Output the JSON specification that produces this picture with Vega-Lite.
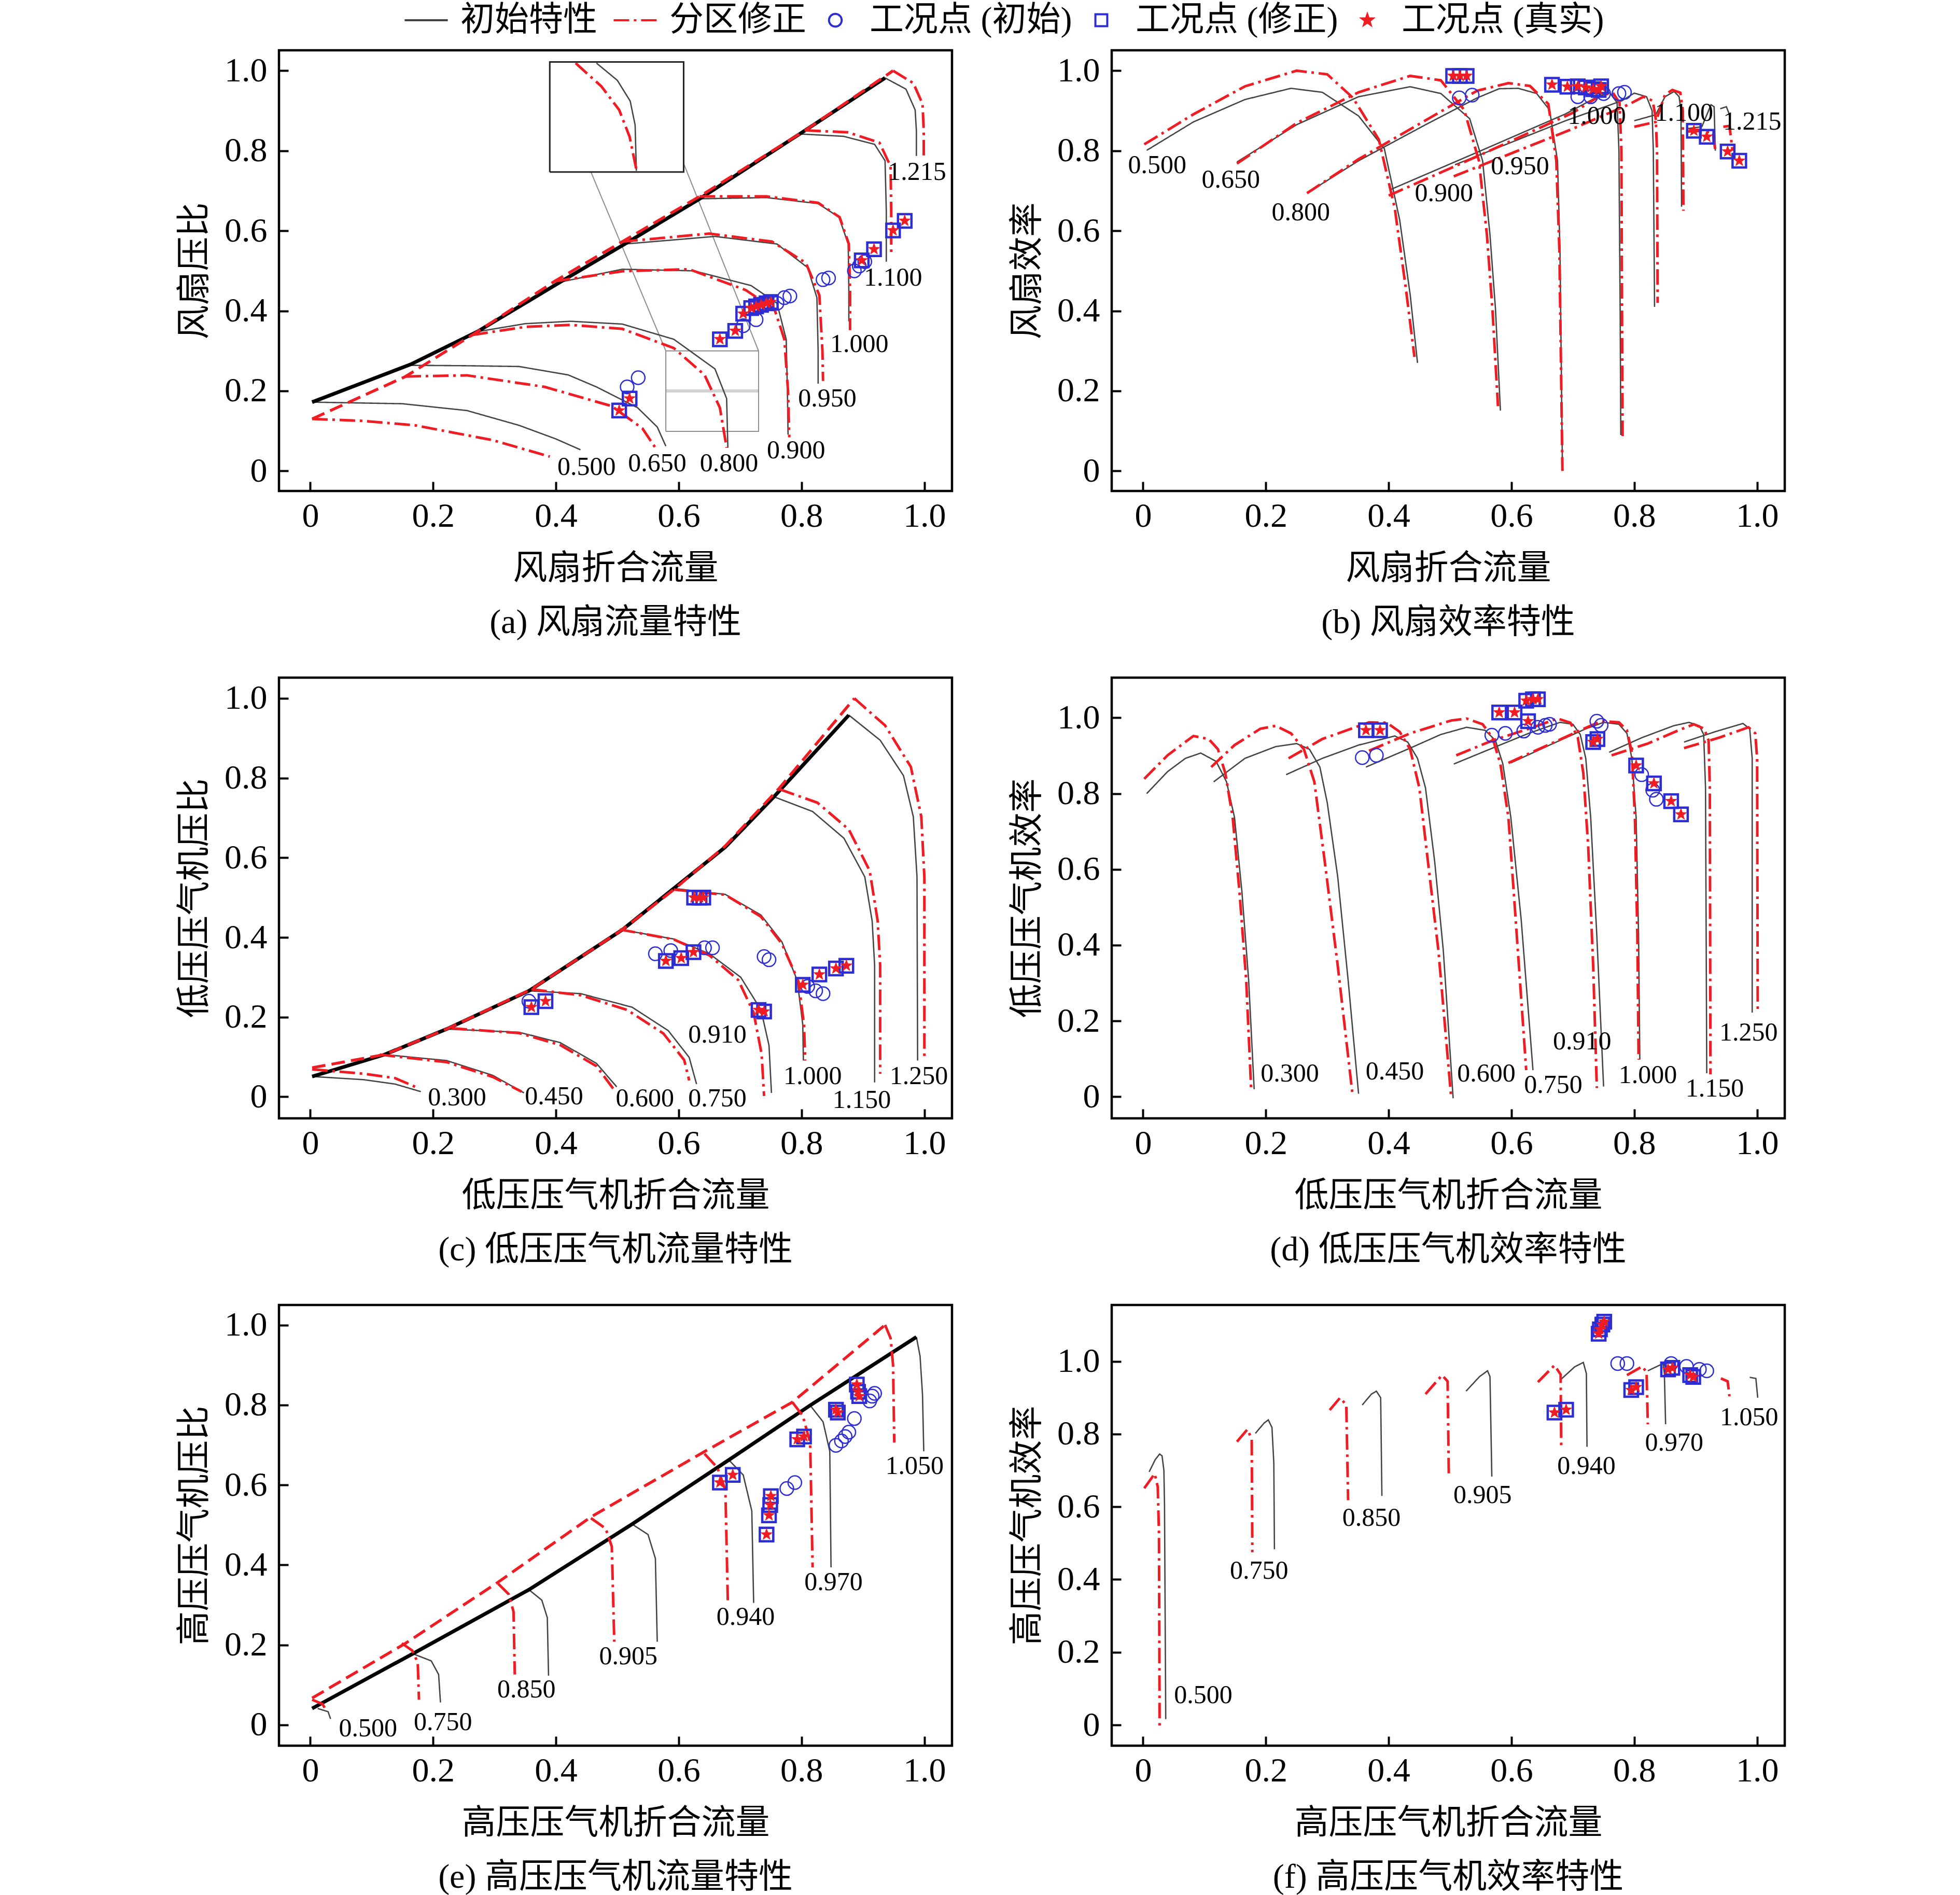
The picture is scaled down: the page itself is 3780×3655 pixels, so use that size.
{
  "$schema": "https://vega.github.io/schema/vega-lite/v6.json",
  "background": "white",
  "padding": {"left": 340, "top": 6, "right": 10, "bottom": 10},
  "datasets": {
    "a": [
      {"g":"si","x":0.003,"y":0.172},{"g":"si","x":0.163,"y":0.266},{"g":"si","x":0.272,"y":0.348},{"g":"si","x":0.407,"y":0.472},{"g":"si","x":0.512,"y":0.567},{"g":"si","x":0.634,"y":0.68},{"g":"si","x":0.797,"y":0.842},{"g":"si","x":0.936,"y":0.982},
      {"g":"sc","x":0.003,"y":0.13},{"g":"sc","x":0.155,"y":0.236},{"g":"sc","x":0.264,"y":0.34},{"g":"sc","x":0.398,"y":0.474},{"g":"sc","x":0.508,"y":0.573},{"g":"sc","x":0.634,"y":0.686},{"g":"sc","x":0.806,"y":0.851},{"g":"sc","x":0.949,"y":1.0},
      {"g":"i","s":"0.500","x":0.003,"y":0.172},{"g":"i","s":"0.500","x":0.15,"y":0.168},{"g":"i","s":"0.500","x":0.255,"y":0.151},{"g":"i","s":"0.500","x":0.34,"y":0.114},{"g":"i","s":"0.500","x":0.4,"y":0.08},{"g":"i","s":"0.500","x":0.44,"y":0.053},
      {"g":"c","s":"0.500","x":0.003,"y":0.13},{"g":"c","s":"0.500","x":0.087,"y":0.125},{"g":"c","s":"0.500","x":0.171,"y":0.114},{"g":"c","s":"0.500","x":0.297,"y":0.077},{"g":"c","s":"0.500","x":0.39,"y":0.036},
      {"g":"i","s":"0.650","x":0.163,"y":0.264},{"g":"i","s":"0.650","x":0.25,"y":0.263},{"g":"i","s":"0.650","x":0.34,"y":0.261},{"g":"i","s":"0.650","x":0.42,"y":0.24},{"g":"i","s":"0.650","x":0.466,"y":0.21},{"g":"i","s":"0.650","x":0.533,"y":0.158},{"g":"i","s":"0.650","x":0.565,"y":0.11},{"g":"i","s":"0.650","x":0.579,"y":0.062},
      {"g":"c","s":"0.650","x":0.155,"y":0.236},{"g":"c","s":"0.650","x":0.255,"y":0.239},{"g":"c","s":"0.650","x":0.382,"y":0.21},{"g":"c","s":"0.650","x":0.491,"y":0.162},{"g":"c","s":"0.650","x":0.541,"y":0.106},{"g":"c","s":"0.650","x":0.562,"y":0.058},
      {"g":"i","s":"0.800","x":0.272,"y":0.348},{"g":"i","s":"0.800","x":0.35,"y":0.368},{"g":"i","s":"0.800","x":0.424,"y":0.374},{"g":"i","s":"0.800","x":0.508,"y":0.367},{"g":"i","s":"0.800","x":0.592,"y":0.329},{"g":"i","s":"0.800","x":0.659,"y":0.255},{"g":"i","s":"0.800","x":0.678,"y":0.181},{"g":"i","s":"0.800","x":0.68,"y":0.058},
      {"g":"c","s":"0.800","x":0.264,"y":0.34},{"g":"c","s":"0.800","x":0.35,"y":0.36},{"g":"c","s":"0.800","x":0.424,"y":0.365},{"g":"c","s":"0.800","x":0.508,"y":0.355},{"g":"c","s":"0.800","x":0.592,"y":0.307},{"g":"c","s":"0.800","x":0.642,"y":0.24},{"g":"c","s":"0.800","x":0.667,"y":0.158},{"g":"c","s":"0.800","x":0.678,"y":0.058},
      {"g":"i","s":"0.900","x":0.407,"y":0.472},{"g":"i","s":"0.900","x":0.508,"y":0.504},{"g":"i","s":"0.900","x":0.625,"y":0.5},{"g":"i","s":"0.900","x":0.718,"y":0.463},{"g":"i","s":"0.900","x":0.76,"y":0.419},{"g":"i","s":"0.900","x":0.775,"y":0.329},{"g":"i","s":"0.900","x":0.777,"y":0.2},{"g":"i","s":"0.900","x":0.778,"y":0.091},
      {"g":"c","s":"0.900","x":0.398,"y":0.474},{"g":"c","s":"0.900","x":0.508,"y":0.499},{"g":"c","s":"0.900","x":0.617,"y":0.504},{"g":"c","s":"0.900","x":0.709,"y":0.452},{"g":"c","s":"0.900","x":0.756,"y":0.404},{"g":"c","s":"0.900","x":0.772,"y":0.329},{"g":"c","s":"0.900","x":0.778,"y":0.2},{"g":"c","s":"0.900","x":0.78,"y":0.084},
      {"g":"i","s":"0.950","x":0.512,"y":0.567},{"g":"i","s":"0.950","x":0.659,"y":0.586},{"g":"i","s":"0.950","x":0.76,"y":0.567},{"g":"i","s":"0.950","x":0.81,"y":0.508},{"g":"i","s":"0.950","x":0.825,"y":0.433},{"g":"i","s":"0.950","x":0.827,"y":0.3},{"g":"i","s":"0.950","x":0.827,"y":0.218},
      {"g":"c","s":"0.950","x":0.508,"y":0.573},{"g":"c","s":"0.950","x":0.65,"y":0.593},{"g":"c","s":"0.950","x":0.752,"y":0.573},{"g":"c","s":"0.950","x":0.807,"y":0.52},{"g":"c","s":"0.950","x":0.829,"y":0.439},{"g":"c","s":"0.950","x":0.834,"y":0.3},{"g":"c","s":"0.950","x":0.835,"y":0.225},
      {"g":"i","s":"1.000","x":0.634,"y":0.68},{"g":"i","s":"1.000","x":0.743,"y":0.683},{"g":"i","s":"1.000","x":0.827,"y":0.668},{"g":"i","s":"1.000","x":0.861,"y":0.634},{"g":"i","s":"1.000","x":0.876,"y":0.567},{"g":"i","s":"1.000","x":0.877,"y":0.45},{"g":"i","s":"1.000","x":0.877,"y":0.374},
      {"g":"c","s":"1.000","x":0.634,"y":0.686},{"g":"c","s":"1.000","x":0.743,"y":0.686},{"g":"c","s":"1.000","x":0.827,"y":0.67},{"g":"c","s":"1.000","x":0.862,"y":0.634},{"g":"c","s":"1.000","x":0.877,"y":0.567},{"g":"c","s":"1.000","x":0.879,"y":0.45},{"g":"c","s":"1.000","x":0.879,"y":0.352},
      {"g":"i","s":"1.100","x":0.797,"y":0.842},{"g":"i","s":"1.100","x":0.869,"y":0.836},{"g":"i","s":"1.100","x":0.919,"y":0.816},{"g":"i","s":"1.100","x":0.936,"y":0.775},{"g":"i","s":"1.100","x":0.938,"y":0.65},{"g":"i","s":"1.100","x":0.938,"y":0.523},
      {"g":"c","s":"1.100","x":0.806,"y":0.851},{"g":"c","s":"1.100","x":0.876,"y":0.846},{"g":"c","s":"1.100","x":0.927,"y":0.82},{"g":"c","s":"1.100","x":0.945,"y":0.761},{"g":"c","s":"1.100","x":0.946,"y":0.65},{"g":"c","s":"1.100","x":0.946,"y":0.545},
      {"g":"i","s":"1.215","x":0.936,"y":0.982},{"g":"i","s":"1.215","x":0.97,"y":0.954},{"g":"i","s":"1.215","x":0.985,"y":0.902},{"g":"i","s":"1.215","x":0.987,"y":0.85},{"g":"i","s":"1.215","x":0.987,"y":0.787},
      {"g":"c","s":"1.215","x":0.949,"y":1.0},{"g":"c","s":"1.215","x":0.982,"y":0.969},{"g":"c","s":"1.215","x":0.997,"y":0.917},{"g":"c","s":"1.215","x":0.999,"y":0.85},{"g":"c","s":"1.215","x":0.999,"y":0.787},
      {"g":"i","s":"inset","x":0.466,"y":1.019},{"g":"i","s":"inset","x":0.5,"y":0.976},{"g":"i","s":"inset","x":0.521,"y":0.924},{"g":"i","s":"inset","x":0.529,"y":0.864},{"g":"i","s":"inset","x":0.531,"y":0.75},
      {"g":"c","s":"inset","x":0.432,"y":1.019},{"g":"c","s":"inset","x":0.474,"y":0.961},{"g":"c","s":"inset","x":0.503,"y":0.902},{"g":"c","s":"inset","x":0.52,"y":0.835},{"g":"c","s":"inset","x":0.531,"y":0.753},
      {"g":"bx","x":0.39,"y":0.747},{"g":"bx","x":0.608,"y":0.747},{"g":"bx","x":0.608,"y":1.022},{"g":"bx","x":0.39,"y":1.022},{"g":"bx","x":0.39,"y":0.747},
      {"g":"zr","x":0.579,"y":0.099},{"g":"zr","x":0.73,"y":0.099},{"g":"zr","x":0.73,"y":0.3},{"g":"zr","x":0.579,"y":0.3},{"g":"zr","x":0.579,"y":0.099},
      {"g":"cn1","x":0.457,"y":0.747},{"g":"cn1","x":0.579,"y":0.3},
      {"g":"cn2","x":0.608,"y":0.768},{"g":"cn2","x":0.73,"y":0.3},
      {"g":"bd","x":0.579,"y":0.2},{"g":"bd","x":0.73,"y":0.2},
      {"g":"o","x":0.516,"y":0.21},{"g":"o","x":0.534,"y":0.233},{"g":"o","x":0.705,"y":0.363},{"g":"o","x":0.726,"y":0.378},{"g":"o","x":0.76,"y":0.419},{"g":"o","x":0.772,"y":0.433},{"g":"o","x":0.781,"y":0.437},{"g":"o","x":0.835,"y":0.478},{"g":"o","x":0.844,"y":0.482},{"g":"o","x":0.886,"y":0.5},{"g":"o","x":0.894,"y":0.512},{"g":"o","x":0.903,"y":0.523},
      {"g":"q","x":0.503,"y":0.151},{"g":"q","x":0.52,"y":0.181},{"g":"q","x":0.667,"y":0.329},{"g":"q","x":0.692,"y":0.35},{"g":"q","x":0.705,"y":0.393},{"g":"q","x":0.718,"y":0.407},{"g":"q","x":0.726,"y":0.411},{"g":"q","x":0.734,"y":0.415},{"g":"q","x":0.743,"y":0.419},{"g":"q","x":0.75,"y":0.422},{"g":"q","x":0.898,"y":0.526},{"g":"q","x":0.918,"y":0.554},{"g":"q","x":0.949,"y":0.601},{"g":"q","x":0.968,"y":0.625},
      {"g":"t","s":"0.500","x":0.45,"y":0.01},{"g":"t","s":"0.650","x":0.565,"y":0.019},{"g":"t","s":"0.800","x":0.682,"y":0.019},{"g":"t","s":"0.900","x":0.791,"y":0.051},{"g":"t","s":"0.950","x":0.842,"y":0.181},{"g":"t","s":"1.000","x":0.894,"y":0.316},{"g":"t","s":"1.100","x":0.949,"y":0.482},{"g":"t","s":"1.215","x":0.988,"y":0.747}
    ],
    "b": [
      {"g":"i","s":"0.500","x":0.006,"y":0.801},{"g":"i","s":"0.500","x":0.082,"y":0.872},{"g":"i","s":"0.500","x":0.166,"y":0.928},{"g":"i","s":"0.500","x":0.241,"y":0.956},{"g":"i","s":"0.500","x":0.292,"y":0.946},{"g":"i","s":"0.500","x":0.351,"y":0.887},{"g":"i","s":"0.500","x":0.393,"y":0.805},{"g":"i","s":"0.500","x":0.418,"y":0.627},{"g":"i","s":"0.500","x":0.435,"y":0.441},{"g":"i","s":"0.500","x":0.447,"y":0.27},
      {"g":"c","s":"0.500","x":0.002,"y":0.816},{"g":"c","s":"0.500","x":0.082,"y":0.891},{"g":"c","s":"0.500","x":0.166,"y":0.961},{"g":"c","s":"0.500","x":0.25,"y":1.0},{"g":"c","s":"0.500","x":0.3,"y":0.991},{"g":"c","s":"0.500","x":0.342,"y":0.932},{"g":"c","s":"0.500","x":0.384,"y":0.828},{"g":"c","s":"0.500","x":0.41,"y":0.656},{"g":"c","s":"0.500","x":0.428,"y":0.456},{"g":"c","s":"0.500","x":0.442,"y":0.285},
      {"g":"i","s":"0.650","x":0.153,"y":0.772},{"g":"i","s":"0.650","x":0.25,"y":0.865},{"g":"i","s":"0.650","x":0.351,"y":0.935},{"g":"i","s":"0.650","x":0.435,"y":0.96},{"g":"i","s":"0.650","x":0.485,"y":0.943},{"g":"i","s":"0.650","x":0.532,"y":0.88},{"g":"i","s":"0.650","x":0.553,"y":0.775},{"g":"i","s":"0.650","x":0.565,"y":0.59},{"g":"i","s":"0.650","x":0.574,"y":0.404},{"g":"i","s":"0.650","x":0.582,"y":0.151},
      {"g":"c","s":"0.650","x":0.153,"y":0.768},{"g":"c","s":"0.650","x":0.25,"y":0.869},{"g":"c","s":"0.650","x":0.351,"y":0.946},{"g":"c","s":"0.650","x":0.435,"y":0.987},{"g":"c","s":"0.650","x":0.485,"y":0.976},{"g":"c","s":"0.650","x":0.523,"y":0.902},{"g":"c","s":"0.650","x":0.547,"y":0.775},{"g":"c","s":"0.650","x":0.56,"y":0.59},{"g":"c","s":"0.650","x":0.569,"y":0.404},{"g":"c","s":"0.650","x":0.578,"y":0.162},
      {"g":"i","s":"0.800","x":0.267,"y":0.694},{"g":"i","s":"0.800","x":0.351,"y":0.775},{"g":"i","s":"0.800","x":0.46,"y":0.865},{"g":"i","s":"0.800","x":0.544,"y":0.932},{"g":"i","s":"0.800","x":0.58,"y":0.955},{"g":"i","s":"0.800","x":0.611,"y":0.956},{"g":"i","s":"0.800","x":0.641,"y":0.943},{"g":"i","s":"0.800","x":0.662,"y":0.902},{"g":"i","s":"0.800","x":0.675,"y":0.775},{"g":"i","s":"0.800","x":0.679,"y":0.552},{"g":"i","s":"0.800","x":0.683,"y":0.002},
      {"g":"c","s":"0.800","x":0.267,"y":0.694},{"g":"c","s":"0.800","x":0.351,"y":0.779},{"g":"c","s":"0.800","x":0.46,"y":0.876},{"g":"c","s":"0.800","x":0.544,"y":0.95},{"g":"c","s":"0.800","x":0.595,"y":0.969},{"g":"c","s":"0.800","x":0.63,"y":0.962},{"g":"c","s":"0.800","x":0.66,"y":0.917},{"g":"c","s":"0.800","x":0.673,"y":0.775},{"g":"c","s":"0.800","x":0.678,"y":0.552},{"g":"c","s":"0.800","x":0.683,"y":0.0},
      {"g":"i","s":"0.900","x":0.403,"y":0.703},{"g":"i","s":"0.900","x":0.55,"y":0.8},{"g":"i","s":"0.900","x":0.688,"y":0.892},{"g":"i","s":"0.900","x":0.74,"y":0.935},{"g":"i","s":"0.900","x":0.76,"y":0.945},{"g":"i","s":"0.900","x":0.772,"y":0.92},{"g":"i","s":"0.900","x":0.775,"y":0.8},{"g":"i","s":"0.900","x":0.777,"y":0.4},{"g":"i","s":"0.900","x":0.778,"y":0.09},
      {"g":"c","s":"0.900","x":0.4,"y":0.688},{"g":"c","s":"0.900","x":0.55,"y":0.79},{"g":"c","s":"0.900","x":0.7,"y":0.895},{"g":"c","s":"0.900","x":0.745,"y":0.938},{"g":"c","s":"0.900","x":0.765,"y":0.945},{"g":"c","s":"0.900","x":0.776,"y":0.92},{"g":"c","s":"0.900","x":0.779,"y":0.8},{"g":"c","s":"0.900","x":0.78,"y":0.4},{"g":"c","s":"0.900","x":0.781,"y":0.084},
      {"g":"i","s":"0.950","x":0.508,"y":0.765},{"g":"i","s":"0.950","x":0.688,"y":0.875},{"g":"i","s":"0.950","x":0.78,"y":0.925},{"g":"i","s":"0.950","x":0.8,"y":0.944},{"g":"i","s":"0.950","x":0.82,"y":0.935},{"g":"i","s":"0.950","x":0.829,"y":0.9},{"g":"i","s":"0.950","x":0.831,"y":0.8},{"g":"i","s":"0.950","x":0.833,"y":0.41},
      {"g":"c","s":"0.950","x":0.506,"y":0.736},{"g":"c","s":"0.950","x":0.7,"y":0.855},{"g":"c","s":"0.950","x":0.79,"y":0.915},{"g":"c","s":"0.950","x":0.815,"y":0.935},{"g":"c","s":"0.950","x":0.83,"y":0.925},{"g":"c","s":"0.950","x":0.835,"y":0.88},{"g":"c","s":"0.950","x":0.837,"y":0.8},{"g":"c","s":"0.950","x":0.838,"y":0.42},
      {"g":"i","s":"1.000","x":0.8,"y":0.875},{"g":"i","s":"1.000","x":0.835,"y":0.89},{"g":"i","s":"1.000","x":0.85,"y":0.935},{"g":"i","s":"1.000","x":0.865,"y":0.948},{"g":"i","s":"1.000","x":0.873,"y":0.935},{"g":"i","s":"1.000","x":0.876,"y":0.9},{"g":"i","s":"1.000","x":0.877,"y":0.66},
      {"g":"c","s":"1.000","x":0.8,"y":0.86},{"g":"c","s":"1.000","x":0.835,"y":0.872},{"g":"c","s":"1.000","x":0.85,"y":0.94},{"g":"c","s":"1.000","x":0.862,"y":0.952},{"g":"c","s":"1.000","x":0.875,"y":0.945},{"g":"c","s":"1.000","x":0.879,"y":0.9},{"g":"c","s":"1.000","x":0.88,"y":0.65},
      {"g":"i","s":"1.100","x":0.885,"y":0.855},{"g":"i","s":"1.100","x":0.91,"y":0.86},{"g":"i","s":"1.100","x":0.925,"y":0.915},{"g":"i","s":"1.100","x":0.93,"y":0.91},{"g":"i","s":"1.100","x":0.932,"y":0.8},
      {"g":"c","s":"1.100","x":0.885,"y":0.848},{"g":"c","s":"1.100","x":0.91,"y":0.85},{"g":"c","s":"1.100","x":0.928,"y":0.845},{"g":"c","s":"1.100","x":0.932,"y":0.8},
      {"g":"i","s":"1.215","x":0.94,"y":0.905},{"g":"i","s":"1.215","x":0.95,"y":0.91},{"g":"i","s":"1.215","x":0.955,"y":0.89},{"g":"i","s":"1.215","x":0.957,"y":0.84},
      {"g":"c","s":"1.215","x":0.945,"y":0.86},{"g":"c","s":"1.215","x":0.955,"y":0.862},{"g":"c","s":"1.215","x":0.96,"y":0.8},
      {"g":"o","x":0.515,"y":0.932},{"g":"o","x":0.536,"y":0.939},{"g":"o","x":0.708,"y":0.935},{"g":"o","x":0.729,"y":0.935},{"g":"o","x":0.75,"y":0.943},{"g":"o","x":0.775,"y":0.943},{"g":"o","x":0.784,"y":0.946},
      {"g":"q","x":0.505,"y":0.987},{"g":"q","x":0.516,"y":0.987},{"g":"q","x":0.527,"y":0.987},{"g":"q","x":0.666,"y":0.965},{"g":"q","x":0.691,"y":0.96},{"g":"q","x":0.708,"y":0.961},{"g":"q","x":0.721,"y":0.958},{"g":"q","x":0.733,"y":0.954},{"g":"q","x":0.742,"y":0.952},{"g":"q","x":0.746,"y":0.961},{"g":"q","x":0.897,"y":0.85},{"g":"q","x":0.918,"y":0.835},{"g":"q","x":0.952,"y":0.798},{"g":"q","x":0.971,"y":0.775},
      {"g":"t","s":"0.500","x":0.023,"y":0.764},{"g":"t","s":"0.650","x":0.143,"y":0.727},{"g":"t","s":"0.800","x":0.257,"y":0.645},{"g":"t","s":"0.900","x":0.49,"y":0.694},{"g":"t","s":"0.950","x":0.614,"y":0.761},{"g":"t","s":"1.000","x":0.739,"y":0.887},{"g":"t","s":"1.100","x":0.881,"y":0.894},{"g":"t","s":"1.215","x":0.992,"y":0.872}
    ],
    "c": [
      {"g":"si","x":0.003,"y":0.051},{"g":"si","x":0.121,"y":0.106},{"g":"si","x":0.222,"y":0.17},{"g":"si","x":0.356,"y":0.266},{"g":"si","x":0.508,"y":0.419},{"g":"si","x":0.592,"y":0.523},{"g":"si","x":0.676,"y":0.627},{"g":"si","x":0.755,"y":0.753},{"g":"si","x":0.877,"y":0.958},
      {"g":"sc","x":0.003,"y":0.073},{"g":"sc","x":0.121,"y":0.106},{"g":"sc","x":0.222,"y":0.17},{"g":"sc","x":0.36,"y":0.27},{"g":"sc","x":0.505,"y":0.416},{"g":"sc","x":0.592,"y":0.52},{"g":"sc","x":0.676,"y":0.63},{"g":"sc","x":0.764,"y":0.775},{"g":"sc","x":0.886,"y":1.0},
      {"g":"i","s":"0.300","x":0.003,"y":0.051},{"g":"i","s":"0.300","x":0.087,"y":0.043},{"g":"i","s":"0.300","x":0.138,"y":0.032},{"g":"i","s":"0.300","x":0.18,"y":0.013},
      {"g":"c","s":"0.300","x":0.003,"y":0.069},{"g":"c","s":"0.300","x":0.087,"y":0.058},{"g":"c","s":"0.300","x":0.138,"y":0.047},{"g":"c","s":"0.300","x":0.171,"y":0.025},
      {"g":"i","s":"0.450","x":0.121,"y":0.106},{"g":"i","s":"0.450","x":0.222,"y":0.091},{"g":"i","s":"0.450","x":0.297,"y":0.054},{"g":"i","s":"0.450","x":0.348,"y":0.01},
      {"g":"c","s":"0.450","x":0.113,"y":0.106},{"g":"c","s":"0.450","x":0.222,"y":0.087},{"g":"c","s":"0.450","x":0.297,"y":0.05},{"g":"c","s":"0.450","x":0.344,"y":0.013},
      {"g":"i","s":"0.600","x":0.222,"y":0.17},{"g":"i","s":"0.600","x":0.34,"y":0.162},{"g":"i","s":"0.600","x":0.407,"y":0.136},{"g":"i","s":"0.600","x":0.466,"y":0.084},{"g":"i","s":"0.600","x":0.499,"y":0.025},
      {"g":"c","s":"0.600","x":0.23,"y":0.172},{"g":"c","s":"0.600","x":0.34,"y":0.16},{"g":"c","s":"0.600","x":0.407,"y":0.13},{"g":"c","s":"0.600","x":0.466,"y":0.077},{"g":"c","s":"0.600","x":0.495,"y":0.017},
      {"g":"i","s":"0.750","x":0.356,"y":0.266},{"g":"i","s":"0.750","x":0.44,"y":0.259},{"g":"i","s":"0.750","x":0.524,"y":0.225},{"g":"i","s":"0.750","x":0.583,"y":0.166},{"g":"i","s":"0.750","x":0.617,"y":0.099},{"g":"i","s":"0.750","x":0.629,"y":0.032},
      {"g":"c","s":"0.750","x":0.36,"y":0.27},{"g":"c","s":"0.750","x":0.44,"y":0.255},{"g":"c","s":"0.750","x":0.516,"y":0.218},{"g":"c","s":"0.750","x":0.575,"y":0.159},{"g":"c","s":"0.750","x":0.609,"y":0.092},{"g":"c","s":"0.750","x":0.617,"y":0.041},
      {"g":"i","s":"0.910","x":0.508,"y":0.419},{"g":"i","s":"0.910","x":0.592,"y":0.396},{"g":"i","s":"0.910","x":0.65,"y":0.359},{"g":"i","s":"0.910","x":0.701,"y":0.3},{"g":"i","s":"0.910","x":0.734,"y":0.218},{"g":"i","s":"0.910","x":0.747,"y":0.129},{"g":"i","s":"0.910","x":0.751,"y":0.01},
      {"g":"c","s":"0.910","x":0.504,"y":0.42},{"g":"c","s":"0.910","x":0.592,"y":0.395},{"g":"c","s":"0.910","x":0.65,"y":0.355},{"g":"c","s":"0.910","x":0.697,"y":0.293},{"g":"c","s":"0.910","x":0.722,"y":0.211},{"g":"c","s":"0.910","x":0.735,"y":0.107},{"g":"c","s":"0.910","x":0.739,"y":0.002},
      {"g":"i","s":"1.000","x":0.592,"y":0.523},{"g":"i","s":"1.000","x":0.676,"y":0.508},{"g":"i","s":"1.000","x":0.734,"y":0.456},{"g":"i","s":"1.000","x":0.768,"y":0.389},{"g":"i","s":"1.000","x":0.793,"y":0.292},{"g":"i","s":"1.000","x":0.802,"y":0.181},{"g":"i","s":"1.000","x":0.803,"y":0.091},
      {"g":"c","s":"1.000","x":0.592,"y":0.52},{"g":"c","s":"1.000","x":0.676,"y":0.507},{"g":"c","s":"1.000","x":0.734,"y":0.452},{"g":"c","s":"1.000","x":0.768,"y":0.384},{"g":"c","s":"1.000","x":0.795,"y":0.29},{"g":"c","s":"1.000","x":0.804,"y":0.18},{"g":"c","s":"1.000","x":0.806,"y":0.091},
      {"g":"i","s":"1.150","x":0.755,"y":0.753},{"g":"i","s":"1.150","x":0.818,"y":0.716},{"g":"i","s":"1.150","x":0.869,"y":0.649},{"g":"i","s":"1.150","x":0.903,"y":0.552},{"g":"i","s":"1.150","x":0.915,"y":0.441},{"g":"i","s":"1.150","x":0.919,"y":0.33},{"g":"i","s":"1.150","x":0.919,"y":0.036},
      {"g":"c","s":"1.150","x":0.764,"y":0.772},{"g":"c","s":"1.150","x":0.826,"y":0.738},{"g":"c","s":"1.150","x":0.877,"y":0.671},{"g":"c","s":"1.150","x":0.911,"y":0.567},{"g":"c","s":"1.150","x":0.924,"y":0.441},{"g":"c","s":"1.150","x":0.928,"y":0.33},{"g":"c","s":"1.150","x":0.928,"y":0.058},
      {"g":"i","s":"1.250","x":0.877,"y":0.958},{"g":"i","s":"1.250","x":0.928,"y":0.895},{"g":"i","s":"1.250","x":0.966,"y":0.806},{"g":"i","s":"1.250","x":0.982,"y":0.703},{"g":"i","s":"1.250","x":0.988,"y":0.552},{"g":"i","s":"1.250","x":0.989,"y":0.091},
      {"g":"c","s":"1.250","x":0.886,"y":1.0},{"g":"c","s":"1.250","x":0.936,"y":0.932},{"g":"c","s":"1.250","x":0.978,"y":0.828},{"g":"c","s":"1.250","x":0.995,"y":0.703},{"g":"c","s":"1.250","x":1.0,"y":0.552},{"g":"c","s":"1.250","x":1.0,"y":0.091},
      {"g":"o","x":0.356,"y":0.24},{"g":"o","x":0.562,"y":0.359},{"g":"o","x":0.587,"y":0.367},{"g":"o","x":0.642,"y":0.374},{"g":"o","x":0.655,"y":0.374},{"g":"o","x":0.739,"y":0.352},{"g":"o","x":0.747,"y":0.344},{"g":"o","x":0.81,"y":0.277},{"g":"o","x":0.823,"y":0.266},{"g":"o","x":0.835,"y":0.259},
      {"g":"q","x":0.36,"y":0.225},{"g":"q","x":0.383,"y":0.24},{"g":"q","x":0.579,"y":0.341},{"g":"q","x":0.604,"y":0.348},{"g":"q","x":0.624,"y":0.363},{"g":"q","x":0.625,"y":0.5},{"g":"q","x":0.634,"y":0.5},{"g":"q","x":0.64,"y":0.5},{"g":"q","x":0.73,"y":0.218},{"g":"q","x":0.739,"y":0.214},{"g":"q","x":0.802,"y":0.281},{"g":"q","x":0.829,"y":0.307},{"g":"q","x":0.856,"y":0.322},{"g":"q","x":0.873,"y":0.329},
      {"g":"t","s":"0.300","x":0.239,"y":-0.002},{"g":"t","s":"0.450","x":0.397,"y":0.0},{"g":"t","s":"0.600","x":0.545,"y":-0.004},{"g":"t","s":"0.750","x":0.663,"y":-0.004},{"g":"t","s":"0.910","x":0.663,"y":0.156},{"g":"t","s":"1.000","x":0.818,"y":0.052},{"g":"t","s":"1.150","x":0.898,"y":-0.009},{"g":"t","s":"1.250","x":0.991,"y":0.052}
    ],
    "d": [
      {"g":"i","s":"0.300","x":0.006,"y":0.8},{"g":"i","s":"0.300","x":0.04,"y":0.858},{"g":"i","s":"0.300","x":0.069,"y":0.893},{"g":"i","s":"0.300","x":0.094,"y":0.907},{"g":"i","s":"0.300","x":0.119,"y":0.885},{"g":"i","s":"0.300","x":0.136,"y":0.831},{"g":"i","s":"0.300","x":0.149,"y":0.737},{"g":"i","s":"0.300","x":0.161,"y":0.542},{"g":"i","s":"0.300","x":0.172,"y":0.308},{"g":"i","s":"0.300","x":0.181,"y":0.02},
      {"g":"c","s":"0.300","x":0.002,"y":0.839},{"g":"c","s":"0.300","x":0.04,"y":0.901},{"g":"c","s":"0.300","x":0.082,"y":0.952},{"g":"c","s":"0.300","x":0.107,"y":0.944},{"g":"c","s":"0.300","x":0.122,"y":0.917},{"g":"c","s":"0.300","x":0.134,"y":0.854},{"g":"c","s":"0.300","x":0.146,"y":0.737},{"g":"c","s":"0.300","x":0.157,"y":0.542},{"g":"c","s":"0.300","x":0.168,"y":0.308},{"g":"c","s":"0.300","x":0.176,"y":0.023},
      {"g":"i","s":"0.450","x":0.115,"y":0.831},{"g":"i","s":"0.450","x":0.166,"y":0.893},{"g":"i","s":"0.450","x":0.216,"y":0.924},{"g":"i","s":"0.450","x":0.25,"y":0.932},{"g":"i","s":"0.450","x":0.271,"y":0.917},{"g":"i","s":"0.450","x":0.288,"y":0.87},{"g":"i","s":"0.450","x":0.3,"y":0.776},{"g":"i","s":"0.450","x":0.317,"y":0.581},{"g":"i","s":"0.450","x":0.334,"y":0.308},{"g":"i","s":"0.450","x":0.351,"y":0.008},
      {"g":"c","s":"0.450","x":0.111,"y":0.87},{"g":"c","s":"0.450","x":0.149,"y":0.928},{"g":"c","s":"0.450","x":0.191,"y":0.971},{"g":"c","s":"0.450","x":0.216,"y":0.979},{"g":"c","s":"0.450","x":0.241,"y":0.959},{"g":"c","s":"0.450","x":0.262,"y":0.917},{"g":"c","s":"0.450","x":0.279,"y":0.831},{"g":"c","s":"0.450","x":0.296,"y":0.62},{"g":"c","s":"0.450","x":0.317,"y":0.347},{"g":"c","s":"0.450","x":0.341,"y":0.008},
      {"g":"i","s":"0.600","x":0.233,"y":0.85},{"g":"i","s":"0.600","x":0.292,"y":0.893},{"g":"i","s":"0.600","x":0.351,"y":0.928},{"g":"i","s":"0.600","x":0.41,"y":0.952},{"g":"i","s":"0.600","x":0.431,"y":0.936},{"g":"i","s":"0.600","x":0.447,"y":0.893},{"g":"i","s":"0.600","x":0.46,"y":0.815},{"g":"i","s":"0.600","x":0.475,"y":0.62},{"g":"i","s":"0.600","x":0.489,"y":0.386},{"g":"i","s":"0.600","x":0.505,"y":-0.004},
      {"g":"c","s":"0.600","x":0.237,"y":0.893},{"g":"c","s":"0.600","x":0.292,"y":0.944},{"g":"c","s":"0.600","x":0.368,"y":0.988},{"g":"c","s":"0.600","x":0.397,"y":0.987},{"g":"c","s":"0.600","x":0.418,"y":0.963},{"g":"c","s":"0.600","x":0.435,"y":0.917},{"g":"c","s":"0.600","x":0.45,"y":0.815},{"g":"c","s":"0.600","x":0.464,"y":0.62},{"g":"c","s":"0.600","x":0.481,"y":0.386},{"g":"c","s":"0.600","x":0.502,"y":-0.005},
      {"g":"i","s":"0.750","x":0.363,"y":0.87},{"g":"i","s":"0.750","x":0.435,"y":0.92},{"g":"i","s":"0.750","x":0.485,"y":0.956},{"g":"i","s":"0.750","x":0.527,"y":0.975},{"g":"i","s":"0.750","x":0.557,"y":0.967},{"g":"i","s":"0.750","x":0.574,"y":0.94},{"g":"i","s":"0.750","x":0.586,"y":0.878},{"g":"i","s":"0.750","x":0.599,"y":0.737},{"g":"i","s":"0.750","x":0.616,"y":0.464},{"g":"i","s":"0.750","x":0.635,"y":0.07},
      {"g":"c","s":"0.750","x":0.368,"y":0.913},{"g":"c","s":"0.750","x":0.435,"y":0.959},{"g":"c","s":"0.750","x":0.502,"y":0.993},{"g":"c","s":"0.750","x":0.527,"y":0.998},{"g":"c","s":"0.750","x":0.553,"y":0.983},{"g":"c","s":"0.750","x":0.569,"y":0.948},{"g":"c","s":"0.750","x":0.582,"y":0.878},{"g":"c","s":"0.750","x":0.595,"y":0.737},{"g":"c","s":"0.750","x":0.607,"y":0.464},{"g":"c","s":"0.750","x":0.624,"y":0.07},
      {"g":"i","s":"0.910","x":0.506,"y":0.878},{"g":"i","s":"0.910","x":0.569,"y":0.92},{"g":"i","s":"0.910","x":0.628,"y":0.959},{"g":"i","s":"0.910","x":0.679,"y":0.988},{"g":"i","s":"0.910","x":0.7,"y":0.983},{"g":"i","s":"0.910","x":0.712,"y":0.956},{"g":"i","s":"0.910","x":0.721,"y":0.893},{"g":"i","s":"0.910","x":0.729,"y":0.737},{"g":"i","s":"0.910","x":0.739,"y":0.425},{"g":"i","s":"0.910","x":0.75,"y":0.027},
      {"g":"c","s":"0.910","x":0.51,"y":0.901},{"g":"c","s":"0.910","x":0.569,"y":0.94},{"g":"c","s":"0.910","x":0.628,"y":0.971},{"g":"c","s":"0.910","x":0.675,"y":0.998},{"g":"c","s":"0.910","x":0.696,"y":0.987},{"g":"c","s":"0.910","x":0.708,"y":0.948},{"g":"c","s":"0.910","x":0.717,"y":0.854},{"g":"c","s":"0.910","x":0.725,"y":0.659},{"g":"c","s":"0.910","x":0.733,"y":0.347},{"g":"c","s":"0.910","x":0.739,"y":0.023},
      {"g":"i","s":"1.000","x":0.599,"y":0.881},{"g":"i","s":"1.000","x":0.662,"y":0.928},{"g":"i","s":"1.000","x":0.721,"y":0.971},{"g":"i","s":"1.000","x":0.75,"y":0.988},{"g":"i","s":"1.000","x":0.775,"y":0.983},{"g":"i","s":"1.000","x":0.788,"y":0.959},{"g":"i","s":"1.000","x":0.796,"y":0.893},{"g":"i","s":"1.000","x":0.803,"y":0.737},{"g":"i","s":"1.000","x":0.807,"y":0.425},{"g":"i","s":"1.000","x":0.809,"y":0.098},
      {"g":"c","s":"1.000","x":0.595,"y":0.881},{"g":"c","s":"1.000","x":0.662,"y":0.93},{"g":"c","s":"1.000","x":0.712,"y":0.967},{"g":"c","s":"1.000","x":0.746,"y":0.991},{"g":"c","s":"1.000","x":0.775,"y":0.988},{"g":"c","s":"1.000","x":0.788,"y":0.967},{"g":"c","s":"1.000","x":0.796,"y":0.909},{"g":"c","s":"1.000","x":0.801,"y":0.737},{"g":"c","s":"1.000","x":0.805,"y":0.425},{"g":"c","s":"1.000","x":0.807,"y":0.098},
      {"g":"i","s":"1.150","x":0.759,"y":0.909},{"g":"i","s":"1.150","x":0.813,"y":0.948},{"g":"i","s":"1.150","x":0.864,"y":0.979},{"g":"i","s":"1.150","x":0.889,"y":0.988},{"g":"i","s":"1.150","x":0.906,"y":0.979},{"g":"i","s":"1.150","x":0.913,"y":0.956},{"g":"i","s":"1.150","x":0.916,"y":0.815},{"g":"i","s":"1.150","x":0.918,"y":0.062},
      {"g":"c","s":"1.150","x":0.763,"y":0.901},{"g":"c","s":"1.150","x":0.822,"y":0.932},{"g":"c","s":"1.150","x":0.872,"y":0.967},{"g":"c","s":"1.150","x":0.897,"y":0.983},{"g":"c","s":"1.150","x":0.914,"y":0.971},{"g":"c","s":"1.150","x":0.921,"y":0.94},{"g":"c","s":"1.150","x":0.923,"y":0.815},{"g":"c","s":"1.150","x":0.924,"y":0.059},
      {"g":"i","s":"1.250","x":0.881,"y":0.936},{"g":"i","s":"1.250","x":0.931,"y":0.963},{"g":"i","s":"1.250","x":0.977,"y":0.985},{"g":"i","s":"1.250","x":0.988,"y":0.971},{"g":"i","s":"1.250","x":0.992,"y":0.893},{"g":"i","s":"1.250","x":0.992,"y":0.222},
      {"g":"c","s":"1.250","x":0.881,"y":0.92},{"g":"c","s":"1.250","x":0.939,"y":0.948},{"g":"c","s":"1.250","x":0.986,"y":0.975},{"g":"c","s":"1.250","x":0.997,"y":0.959},{"g":"c","s":"1.250","x":1.0,"y":0.893},{"g":"c","s":"1.250","x":1.001,"y":0.23},
      {"g":"o","x":0.357,"y":0.895},{"g":"o","x":0.38,"y":0.901},{"g":"o","x":0.568,"y":0.954},{"g":"o","x":0.59,"y":0.959},{"g":"o","x":0.62,"y":0.965},{"g":"o","x":0.643,"y":0.975},{"g":"o","x":0.655,"y":0.98},{"g":"o","x":0.662,"y":0.983},{"g":"o","x":0.739,"y":0.991},{"g":"o","x":0.746,"y":0.98},{"g":"o","x":0.812,"y":0.85},{"g":"o","x":0.83,"y":0.809},{"g":"o","x":0.836,"y":0.785},
      {"g":"q","x":0.363,"y":0.967},{"g":"q","x":0.386,"y":0.967},{"g":"q","x":0.58,"y":1.014},{"g":"q","x":0.605,"y":1.014},{"g":"q","x":0.624,"y":1.045},{"g":"q","x":0.635,"y":1.049},{"g":"q","x":0.643,"y":1.049},{"g":"q","x":0.627,"y":0.991},{"g":"q","x":0.733,"y":0.936},{"g":"q","x":0.74,"y":0.944},{"g":"q","x":0.803,"y":0.874},{"g":"q","x":0.832,"y":0.827},{"g":"q","x":0.86,"y":0.78},{"g":"q","x":0.876,"y":0.745},
      {"g":"t","s":"0.300","x":0.239,"y":0.06},{"g":"t","s":"0.450","x":0.41,"y":0.066},{"g":"t","s":"0.600","x":0.559,"y":0.06},{"g":"t","s":"0.750","x":0.668,"y":0.031},{"g":"t","s":"0.910","x":0.715,"y":0.146},{"g":"t","s":"1.000","x":0.822,"y":0.057},{"g":"t","s":"1.150","x":0.931,"y":0.021},{"g":"t","s":"1.250","x":0.986,"y":0.169}
    ],
    "e": [
      {"g":"si","x":0.003,"y":0.041},{"g":"si","x":0.167,"y":0.178},{"g":"si","x":0.356,"y":0.338},{"g":"si","x":0.524,"y":0.502},{"g":"si","x":0.684,"y":0.665},{"g":"si","x":0.814,"y":0.799},{"g":"si","x":0.987,"y":0.97},
      {"g":"sc","x":0.003,"y":0.067},{"g":"sc","x":0.155,"y":0.204},{"g":"sc","x":0.306,"y":0.357},{"g":"sc","x":0.457,"y":0.52},{"g":"sc","x":0.638,"y":0.68},{"g":"sc","x":0.785,"y":0.807},{"g":"sc","x":0.936,"y":1.0},
      {"g":"i","s":"0.500","x":0.012,"y":0.041},{"g":"i","s":"0.500","x":0.029,"y":0.033},{"g":"i","s":"0.500","x":0.033,"y":0.015},
      {"g":"c","s":"0.500","x":0.003,"y":0.063},{"g":"c","s":"0.500","x":0.02,"y":0.052},{"g":"c","s":"0.500","x":0.024,"y":0.041},
      {"g":"i","s":"0.750","x":0.167,"y":0.178},{"g":"i","s":"0.750","x":0.197,"y":0.16},{"g":"i","s":"0.750","x":0.209,"y":0.126},{"g":"i","s":"0.750","x":0.212,"y":0.056},
      {"g":"c","s":"0.750","x":0.149,"y":0.204},{"g":"c","s":"0.750","x":0.166,"y":0.186},{"g":"c","s":"0.750","x":0.175,"y":0.156},{"g":"c","s":"0.750","x":0.177,"y":0.063},
      {"g":"i","s":"0.850","x":0.356,"y":0.338},{"g":"i","s":"0.850","x":0.377,"y":0.312},{"g":"i","s":"0.850","x":0.386,"y":0.268},{"g":"i","s":"0.850","x":0.388,"y":0.123},
      {"g":"c","s":"0.850","x":0.306,"y":0.353},{"g":"c","s":"0.850","x":0.323,"y":0.327},{"g":"c","s":"0.850","x":0.331,"y":0.283},{"g":"c","s":"0.850","x":0.333,"y":0.126},
      {"g":"i","s":"0.905","x":0.524,"y":0.502},{"g":"i","s":"0.905","x":0.55,"y":0.476},{"g":"i","s":"0.905","x":0.562,"y":0.416},{"g":"i","s":"0.905","x":0.565,"y":0.208},
      {"g":"c","s":"0.905","x":0.457,"y":0.517},{"g":"c","s":"0.905","x":0.481,"y":0.491},{"g":"c","s":"0.905","x":0.491,"y":0.446},{"g":"c","s":"0.905","x":0.495,"y":0.208},
      {"g":"i","s":"0.940","x":0.68,"y":0.665},{"g":"i","s":"0.940","x":0.705,"y":0.625},{"g":"i","s":"0.940","x":0.719,"y":0.535},{"g":"i","s":"0.940","x":0.722,"y":0.305},
      {"g":"c","s":"0.940","x":0.642,"y":0.678},{"g":"c","s":"0.940","x":0.663,"y":0.643},{"g":"c","s":"0.940","x":0.676,"y":0.587},{"g":"c","s":"0.940","x":0.68,"y":0.305},
      {"g":"i","s":"0.970","x":0.814,"y":0.799},{"g":"i","s":"0.970","x":0.835,"y":0.758},{"g":"i","s":"0.970","x":0.846,"y":0.684},{"g":"i","s":"0.970","x":0.848,"y":0.394},
      {"g":"c","s":"0.970","x":0.785,"y":0.807},{"g":"c","s":"0.970","x":0.802,"y":0.773},{"g":"c","s":"0.970","x":0.814,"y":0.706},{"g":"c","s":"0.970","x":0.818,"y":0.394},
      {"g":"i","s":"1.050","x":0.987,"y":0.97},{"g":"i","s":"1.050","x":0.993,"y":0.922},{"g":"i","s":"1.050","x":0.997,"y":0.825},{"g":"i","s":"1.050","x":0.999,"y":0.684},
      {"g":"c","s":"1.050","x":0.936,"y":1.0},{"g":"c","s":"1.050","x":0.945,"y":0.967},{"g":"c","s":"1.050","x":0.949,"y":0.9},{"g":"c","s":"1.050","x":0.951,"y":0.706},
      {"g":"o","x":0.776,"y":0.591},{"g":"o","x":0.789,"y":0.606},{"g":"o","x":0.856,"y":0.699},{"g":"o","x":0.865,"y":0.71},{"g":"o","x":0.871,"y":0.721},{"g":"o","x":0.877,"y":0.732},{"g":"o","x":0.886,"y":0.766},{"g":"o","x":0.911,"y":0.81},{"g":"o","x":0.915,"y":0.822},{"g":"o","x":0.919,"y":0.829},
      {"g":"q","x":0.667,"y":0.606},{"g":"q","x":0.688,"y":0.625},{"g":"q","x":0.743,"y":0.476},{"g":"q","x":0.747,"y":0.524},{"g":"q","x":0.749,"y":0.55},{"g":"q","x":0.75,"y":0.572},{"g":"q","x":0.793,"y":0.714},{"g":"q","x":0.804,"y":0.721},{"g":"q","x":0.856,"y":0.788},{"g":"q","x":0.859,"y":0.781},{"g":"q","x":0.89,"y":0.851},{"g":"q","x":0.892,"y":0.833},{"g":"q","x":0.894,"y":0.822},
      {"g":"t","s":"0.500","x":0.094,"y":-0.009},{"g":"t","s":"0.750","x":0.216,"y":0.006},{"g":"t","s":"0.850","x":0.352,"y":0.088},{"g":"t","s":"0.905","x":0.518,"y":0.171},{"g":"t","s":"0.940","x":0.709,"y":0.269},{"g":"t","s":"0.970","x":0.852,"y":0.357},{"g":"t","s":"1.050","x":0.984,"y":0.647}
    ],
    "f": [
      {"g":"i","s":"0.500","x":0.01,"y":0.696},{"g":"i","s":"0.500","x":0.02,"y":0.73},{"g":"i","s":"0.500","x":0.027,"y":0.745},{"g":"i","s":"0.500","x":0.031,"y":0.74},{"g":"i","s":"0.500","x":0.034,"y":0.7},{"g":"i","s":"0.500","x":0.035,"y":0.606},{"g":"i","s":"0.500","x":0.037,"y":0.016},
      {"g":"c","s":"0.500","x":0.002,"y":0.651},{"g":"c","s":"0.500","x":0.019,"y":0.691},{"g":"c","s":"0.500","x":0.024,"y":0.655},{"g":"c","s":"0.500","x":0.026,"y":0.524},{"g":"c","s":"0.500","x":0.027,"y":-0.004},
      {"g":"i","s":"0.750","x":0.183,"y":0.802},{"g":"i","s":"0.750","x":0.197,"y":0.83},{"g":"i","s":"0.750","x":0.204,"y":0.839},{"g":"i","s":"0.750","x":0.21,"y":0.818},{"g":"i","s":"0.750","x":0.213,"y":0.72},{"g":"i","s":"0.750","x":0.214,"y":0.483},
      {"g":"c","s":"0.750","x":0.153,"y":0.779},{"g":"c","s":"0.750","x":0.17,"y":0.813},{"g":"c","s":"0.750","x":0.177,"y":0.786},{"g":"c","s":"0.750","x":0.178,"y":0.475},
      {"g":"i","s":"0.850","x":0.357,"y":0.88},{"g":"i","s":"0.850","x":0.372,"y":0.91},{"g":"i","s":"0.850","x":0.38,"y":0.918},{"g":"i","s":"0.850","x":0.387,"y":0.9},{"g":"i","s":"0.850","x":0.389,"y":0.63},
      {"g":"c","s":"0.850","x":0.304,"y":0.866},{"g":"c","s":"0.850","x":0.321,"y":0.9},{"g":"c","s":"0.850","x":0.331,"y":0.88},{"g":"c","s":"0.850","x":0.334,"y":0.618},
      {"g":"i","s":"0.905","x":0.526,"y":0.918},{"g":"i","s":"0.905","x":0.548,"y":0.958},{"g":"i","s":"0.905","x":0.561,"y":0.974},{"g":"i","s":"0.905","x":0.565,"y":0.958},{"g":"i","s":"0.905","x":0.568,"y":0.683},
      {"g":"c","s":"0.905","x":0.46,"y":0.91},{"g":"c","s":"0.905","x":0.487,"y":0.962},{"g":"c","s":"0.905","x":0.496,"y":0.945},{"g":"c","s":"0.905","x":0.498,"y":0.679},
      {"g":"i","s":"0.940","x":0.679,"y":0.948},{"g":"i","s":"0.940","x":0.703,"y":0.985},{"g":"i","s":"0.940","x":0.717,"y":0.997},{"g":"i","s":"0.940","x":0.722,"y":0.966},{"g":"i","s":"0.940","x":0.723,"y":0.765},
      {"g":"c","s":"0.940","x":0.643,"y":0.943},{"g":"c","s":"0.940","x":0.67,"y":0.989},{"g":"c","s":"0.940","x":0.68,"y":0.964},{"g":"c","s":"0.940","x":0.681,"y":0.765},
      {"g":"i","s":"0.970","x":0.822,"y":0.974},{"g":"i","s":"0.970","x":0.847,"y":0.994},{"g":"i","s":"0.970","x":0.849,"y":0.966},{"g":"i","s":"0.970","x":0.851,"y":0.827},
      {"g":"c","s":"0.970","x":0.788,"y":0.962},{"g":"c","s":"0.970","x":0.813,"y":0.986},{"g":"c","s":"0.970","x":0.82,"y":0.97},{"g":"c","s":"0.970","x":0.822,"y":0.827},
      {"g":"i","s":"1.050","x":0.988,"y":0.956},{"g":"i","s":"1.050","x":0.998,"y":0.953},{"g":"i","s":"1.050","x":1.001,"y":0.9},
      {"g":"c","s":"1.050","x":0.941,"y":0.953},{"g":"c","s":"1.050","x":0.952,"y":0.945},{"g":"c","s":"1.050","x":0.955,"y":0.904},
      {"g":"o","x":0.773,"y":0.994},{"g":"o","x":0.788,"y":0.994},{"g":"o","x":0.86,"y":0.994},{"g":"o","x":0.885,"y":0.986},{"g":"o","x":0.906,"y":0.978},{"g":"o","x":0.918,"y":0.974},
      {"g":"q","x":0.742,"y":1.076},{"g":"q","x":0.744,"y":1.088},{"g":"q","x":0.748,"y":1.101},{"g":"q","x":0.751,"y":1.109},{"g":"q","x":0.67,"y":0.859},{"g":"q","x":0.689,"y":0.867},{"g":"q","x":0.795,"y":0.921},{"g":"q","x":0.803,"y":0.929},{"g":"q","x":0.855,"y":0.978},{"g":"q","x":0.862,"y":0.982},{"g":"q","x":0.891,"y":0.962},{"g":"q","x":0.896,"y":0.957},
      {"g":"t","s":"0.500","x":0.098,"y":0.082},{"g":"t","s":"0.750","x":0.189,"y":0.424},{"g":"t","s":"0.850","x":0.372,"y":0.569},{"g":"t","s":"0.905","x":0.553,"y":0.632},{"g":"t","s":"0.940","x":0.722,"y":0.712},{"g":"t","s":"0.970","x":0.865,"y":0.776},{"g":"t","s":"1.050","x":0.987,"y":0.845}
    ]
  },
  "columns": 2,
  "spacing": {"row": 67, "column": 107},
  "concat": [
    {
      "width": 1298, "height": 850,
      "title": "(a) 风扇流量特性",
      "data": {"name": "a"},
      "encoding": {
        "x": {"field": "x", "type": "quantitative", "title": "风扇折合流量", "scale": {"domain": [-0.051, 1.045], "nice": false, "zero": false}, "axis": {"values": [0, 0.2, 0.4, 0.6, 0.8, 1], "labelExpr": "datum.value == 0 ? '0' : format(datum.value, '.1f')"}},
        "y": {"field": "y", "type": "quantitative", "title": "风扇压比", "scale": {"domain": [-0.05, 1.051], "nice": false, "zero": false}, "axis": {"values": [0, 0.2, 0.4, 0.6, 0.8, 1], "labelExpr": "datum.value == 0 ? '0' : format(datum.value, '.1f')"}}
      },
      "layer": [
        {"data": {"values": [{}]}, "mark": {"type": "rule", "color": "#d6d6d6", "strokeWidth": 2, "strokeDash": [4, 4]}, "encoding": {"x": {"datum": 0.4}, "y": {"datum": -0.05}, "y2": {"datum": 1.051}}},
        {"transform": [{"filter": "datum.g == 'bd'"}], "mark": {"type": "line", "color": "#d2d2d2", "strokeWidth": 6}, "encoding": {"order": {"value": null}}},
        {"transform": [{"filter": "datum.g == 'zr' || datum.g == 'cn1' || datum.g == 'cn2'"}], "mark": {"type": "line", "color": "#8c8c8c", "strokeWidth": 2}, "encoding": {"detail": {"field": "g"}, "order": {"value": null}}},
        {"transform": [{"filter": "datum.g == 'bx'"}], "mark": {"type": "line", "color": "#222222", "strokeWidth": 3}, "encoding": {"order": {"value": null}}},
        {"transform": [{"filter": "datum.g == 'i'"}], "mark": {"type": "line", "strokeWidth": 2.6},
          "encoding": {
            "stroke": {"datum": "初始特性", "type": "nominal", "scale": {"domain": ["初始特性", "分区修正", "工况点 (初始)", "工况点 (修正)", "工况点 (真实)"], "range": ["#444444", "#f01c24", "#2d2dd6", "#2d2dd6", "#f01c24"]}, "legend": {"title": null}},
            "strokeDash": {"datum": "初始特性", "type": "nominal", "scale": {"domain": ["初始特性", "分区修正", "工况点 (初始)", "工况点 (修正)", "工况点 (真实)"], "range": [[1, 0], [30, 9, 5, 9], [1, 0], [1, 0], [1, 0]]}, "legend": {"title": null}},
            "detail": {"field": "s"}, "order": {"value": null}}},
        {"transform": [{"filter": "datum.g == 'si'"}], "mark": {"type": "line", "color": "#000000", "strokeWidth": 7}, "encoding": {"order": {"value": null}}},
        {"transform": [{"filter": "datum.g == 'c'"}], "mark": {"type": "line", "strokeWidth": 5},
          "encoding": {"stroke": {"datum": "分区修正", "type": "nominal"}, "strokeDash": {"datum": "分区修正", "type": "nominal"}, "detail": {"field": "s"}, "order": {"value": null}}},
        {"transform": [{"filter": "datum.g == 'sc'"}], "mark": {"type": "line", "color": "#f01c24", "strokeWidth": 5.5, "strokeDash": [26, 12]}, "encoding": {"order": {"value": null}}},
        {"transform": [{"filter": "datum.g == 'o'"}], "mark": {"type": "point", "size": 3060, "strokeWidth": 2.5, "opacity": 1},
          "encoding": {
            "shape": {"datum": "工况点 (初始)", "type": "nominal", "scale": {"domain": ["初始特性", "分区修正", "工况点 (初始)", "工况点 (修正)", "工况点 (真实)"], "range": ["M-1.6,0L1.6,0", "M-1.6,0L1.6,0", "M-0.47,0A0.47,0.47,0,1,1,0.47,0A0.47,0.47,0,1,1,-0.47,0Z", "M-0.44,-0.44H0.44V0.44H-0.44Z", "M0,-0.42L0.1,-0.138L0.399,-0.13L0.162,0.053L0.247,0.34L0,0.17L-0.247,0.34L-0.162,0.053L-0.399,-0.13L-0.1,-0.138Z"]}, "legend": {"title": null}},
            "fill": {"datum": "工况点 (初始)", "type": "nominal", "scale": {"domain": ["初始特性", "分区修正", "工况点 (初始)", "工况点 (修正)", "工况点 (真实)"], "range": ["transparent", "transparent", "transparent", "transparent", "#f01c24"]}, "legend": {"title": null}},
            "stroke": {"datum": "工况点 (初始)", "type": "nominal"}}},
        {"transform": [{"filter": "datum.g == 'q'"}], "mark": {"type": "point", "size": 3490, "strokeWidth": 4.5, "opacity": 1},
          "encoding": {"shape": {"datum": "工况点 (修正)", "type": "nominal"}, "fill": {"datum": "工况点 (修正)", "type": "nominal"}, "stroke": {"datum": "工况点 (修正)", "type": "nominal"}}},
        {"transform": [{"filter": "datum.g == 'q'"}], "mark": {"type": "point", "size": 3000, "strokeWidth": 1, "opacity": 1},
          "encoding": {"shape": {"datum": "工况点 (真实)", "type": "nominal"}, "fill": {"datum": "工况点 (真实)", "type": "nominal"}, "stroke": {"datum": "工况点 (真实)", "type": "nominal"}}},
        {"transform": [{"filter": "datum.g == 't'"}], "mark": {"type": "text", "font": "Liberation Serif", "fontSize": 50, "color": "#000000", "align": "center", "baseline": "middle"}, "encoding": {"text": {"field": "s"}}}
      ]
    },
    {
      "width": 1298, "height": 850,
      "title": "(b) 风扇效率特性",
      "data": {"name": "b"},
      "encoding": {
        "x": {"field": "x", "type": "quantitative", "title": "风扇折合流量", "scale": {"domain": [-0.051, 1.045], "nice": false, "zero": false}, "axis": {"values": [0, 0.2, 0.4, 0.6, 0.8, 1], "labelExpr": "datum.value == 0 ? '0' : format(datum.value, '.1f')"}},
        "y": {"field": "y", "type": "quantitative", "title": "风扇效率", "scale": {"domain": [-0.05, 1.051], "nice": false, "zero": false}, "axis": {"values": [0, 0.2, 0.4, 0.6, 0.8, 1], "labelExpr": "datum.value == 0 ? '0' : format(datum.value, '.1f')"}}
      },
      "layer": [
        {"data": {"values": [{}]}, "mark": {"type": "rule", "color": "#d6d6d6", "strokeWidth": 2, "strokeDash": [4, 4]}, "encoding": {"x": {"datum": 0.4}, "y": {"datum": -0.05}, "y2": {"datum": 1.051}}},
        {"transform": [{"filter": "datum.g == 'i'"}], "mark": {"type": "line", "strokeWidth": 2.6}, "encoding": {"stroke": {"datum": "初始特性", "type": "nominal"}, "strokeDash": {"datum": "初始特性", "type": "nominal"}, "detail": {"field": "s"}, "order": {"value": null}}},
        {"transform": [{"filter": "datum.g == 'c'"}], "mark": {"type": "line", "strokeWidth": 5}, "encoding": {"stroke": {"datum": "分区修正", "type": "nominal"}, "strokeDash": {"datum": "分区修正", "type": "nominal"}, "detail": {"field": "s"}, "order": {"value": null}}},
        {"transform": [{"filter": "datum.g == 'o'"}], "mark": {"type": "point", "size": 3060, "strokeWidth": 2.5, "opacity": 1}, "encoding": {"shape": {"datum": "工况点 (初始)", "type": "nominal"}, "fill": {"datum": "工况点 (初始)", "type": "nominal"}, "stroke": {"datum": "工况点 (初始)", "type": "nominal"}}},
        {"transform": [{"filter": "datum.g == 'q'"}], "mark": {"type": "point", "size": 3490, "strokeWidth": 4.5, "opacity": 1}, "encoding": {"shape": {"datum": "工况点 (修正)", "type": "nominal"}, "fill": {"datum": "工况点 (修正)", "type": "nominal"}, "stroke": {"datum": "工况点 (修正)", "type": "nominal"}}},
        {"transform": [{"filter": "datum.g == 'q'"}], "mark": {"type": "point", "size": 3000, "strokeWidth": 1, "opacity": 1}, "encoding": {"shape": {"datum": "工况点 (真实)", "type": "nominal"}, "fill": {"datum": "工况点 (真实)", "type": "nominal"}, "stroke": {"datum": "工况点 (真实)", "type": "nominal"}}},
        {"transform": [{"filter": "datum.g == 't'"}], "mark": {"type": "text", "font": "Liberation Serif", "fontSize": 50, "color": "#000000", "align": "center", "baseline": "middle"}, "encoding": {"text": {"field": "s"}}}
      ]
    },
    {
      "width": 1298, "height": 850,
      "title": "(c) 低压压气机流量特性",
      "data": {"name": "c"},
      "encoding": {
        "x": {"field": "x", "type": "quantitative", "title": "低压压气机折合流量", "scale": {"domain": [-0.051, 1.045], "nice": false, "zero": false}, "axis": {"values": [0, 0.2, 0.4, 0.6, 0.8, 1], "labelExpr": "datum.value == 0 ? '0' : format(datum.value, '.1f')"}},
        "y": {"field": "y", "type": "quantitative", "title": "低压压气机压比", "scale": {"domain": [-0.054, 1.052], "nice": false, "zero": false}, "axis": {"values": [0, 0.2, 0.4, 0.6, 0.8, 1], "labelExpr": "datum.value == 0 ? '0' : format(datum.value, '.1f')"}}
      },
      "layer": [
        {"data": {"values": [{}]}, "mark": {"type": "rule", "color": "#d6d6d6", "strokeWidth": 2, "strokeDash": [4, 4]}, "encoding": {"x": {"datum": 0.4}, "y": {"datum": -0.054}, "y2": {"datum": 1.052}}},
        {"transform": [{"filter": "datum.g == 'i'"}], "mark": {"type": "line", "strokeWidth": 2.6}, "encoding": {"stroke": {"datum": "初始特性", "type": "nominal"}, "strokeDash": {"datum": "初始特性", "type": "nominal"}, "detail": {"field": "s"}, "order": {"value": null}}},
        {"transform": [{"filter": "datum.g == 'si'"}], "mark": {"type": "line", "color": "#000000", "strokeWidth": 7}, "encoding": {"order": {"value": null}}},
        {"transform": [{"filter": "datum.g == 'c'"}], "mark": {"type": "line", "strokeWidth": 5}, "encoding": {"stroke": {"datum": "分区修正", "type": "nominal"}, "strokeDash": {"datum": "分区修正", "type": "nominal"}, "detail": {"field": "s"}, "order": {"value": null}}},
        {"transform": [{"filter": "datum.g == 'sc'"}], "mark": {"type": "line", "color": "#f01c24", "strokeWidth": 5.5, "strokeDash": [26, 12]}, "encoding": {"order": {"value": null}}},
        {"transform": [{"filter": "datum.g == 'o'"}], "mark": {"type": "point", "size": 3060, "strokeWidth": 2.5, "opacity": 1}, "encoding": {"shape": {"datum": "工况点 (初始)", "type": "nominal"}, "fill": {"datum": "工况点 (初始)", "type": "nominal"}, "stroke": {"datum": "工况点 (初始)", "type": "nominal"}}},
        {"transform": [{"filter": "datum.g == 'q'"}], "mark": {"type": "point", "size": 3490, "strokeWidth": 4.5, "opacity": 1}, "encoding": {"shape": {"datum": "工况点 (修正)", "type": "nominal"}, "fill": {"datum": "工况点 (修正)", "type": "nominal"}, "stroke": {"datum": "工况点 (修正)", "type": "nominal"}}},
        {"transform": [{"filter": "datum.g == 'q'"}], "mark": {"type": "point", "size": 3000, "strokeWidth": 1, "opacity": 1}, "encoding": {"shape": {"datum": "工况点 (真实)", "type": "nominal"}, "fill": {"datum": "工况点 (真实)", "type": "nominal"}, "stroke": {"datum": "工况点 (真实)", "type": "nominal"}}},
        {"transform": [{"filter": "datum.g == 't'"}], "mark": {"type": "text", "font": "Liberation Serif", "fontSize": 50, "color": "#000000", "align": "center", "baseline": "middle"}, "encoding": {"text": {"field": "s"}}}
      ]
    },
    {
      "width": 1298, "height": 850,
      "title": "(d) 低压压气机效率特性",
      "data": {"name": "d"},
      "encoding": {
        "x": {"field": "x", "type": "quantitative", "title": "低压压气机折合流量", "scale": {"domain": [-0.051, 1.045], "nice": false, "zero": false}, "axis": {"values": [0, 0.2, 0.4, 0.6, 0.8, 1], "labelExpr": "datum.value == 0 ? '0' : format(datum.value, '.1f')"}},
        "y": {"field": "y", "type": "quantitative", "title": "低压压气机效率", "scale": {"domain": [-0.057, 1.106], "nice": false, "zero": false}, "axis": {"values": [0, 0.2, 0.4, 0.6, 0.8, 1], "labelExpr": "datum.value == 0 ? '0' : format(datum.value, '.1f')"}}
      },
      "layer": [
        {"data": {"values": [{}]}, "mark": {"type": "rule", "color": "#d6d6d6", "strokeWidth": 2, "strokeDash": [4, 4]}, "encoding": {"x": {"datum": 0.4}, "y": {"datum": -0.057}, "y2": {"datum": 1.106}}},
        {"transform": [{"filter": "datum.g == 'i'"}], "mark": {"type": "line", "strokeWidth": 2.6}, "encoding": {"stroke": {"datum": "初始特性", "type": "nominal"}, "strokeDash": {"datum": "初始特性", "type": "nominal"}, "detail": {"field": "s"}, "order": {"value": null}}},
        {"transform": [{"filter": "datum.g == 'c'"}], "mark": {"type": "line", "strokeWidth": 5}, "encoding": {"stroke": {"datum": "分区修正", "type": "nominal"}, "strokeDash": {"datum": "分区修正", "type": "nominal"}, "detail": {"field": "s"}, "order": {"value": null}}},
        {"transform": [{"filter": "datum.g == 'o'"}], "mark": {"type": "point", "size": 3060, "strokeWidth": 2.5, "opacity": 1}, "encoding": {"shape": {"datum": "工况点 (初始)", "type": "nominal"}, "fill": {"datum": "工况点 (初始)", "type": "nominal"}, "stroke": {"datum": "工况点 (初始)", "type": "nominal"}}},
        {"transform": [{"filter": "datum.g == 'q'"}], "mark": {"type": "point", "size": 3490, "strokeWidth": 4.5, "opacity": 1}, "encoding": {"shape": {"datum": "工况点 (修正)", "type": "nominal"}, "fill": {"datum": "工况点 (修正)", "type": "nominal"}, "stroke": {"datum": "工况点 (修正)", "type": "nominal"}}},
        {"transform": [{"filter": "datum.g == 'q'"}], "mark": {"type": "point", "size": 3000, "strokeWidth": 1, "opacity": 1}, "encoding": {"shape": {"datum": "工况点 (真实)", "type": "nominal"}, "fill": {"datum": "工况点 (真实)", "type": "nominal"}, "stroke": {"datum": "工况点 (真实)", "type": "nominal"}}},
        {"transform": [{"filter": "datum.g == 't'"}], "mark": {"type": "text", "font": "Liberation Serif", "fontSize": 50, "color": "#000000", "align": "center", "baseline": "middle"}, "encoding": {"text": {"field": "s"}}}
      ]
    },
    {
      "width": 1298, "height": 850,
      "title": "(e) 高压压气机流量特性",
      "data": {"name": "e"},
      "encoding": {
        "x": {"field": "x", "type": "quantitative", "title": "高压压气机折合流量", "scale": {"domain": [-0.051, 1.045], "nice": false, "zero": false}, "axis": {"values": [0, 0.2, 0.4, 0.6, 0.8, 1], "labelExpr": "datum.value == 0 ? '0' : format(datum.value, '.1f')"}},
        "y": {"field": "y", "type": "quantitative", "title": "高压压气机压比", "scale": {"domain": [-0.052, 1.05], "nice": false, "zero": false}, "axis": {"values": [0, 0.2, 0.4, 0.6, 0.8, 1], "labelExpr": "datum.value == 0 ? '0' : format(datum.value, '.1f')"}}
      },
      "layer": [
        {"data": {"values": [{}]}, "mark": {"type": "rule", "color": "#d6d6d6", "strokeWidth": 2, "strokeDash": [4, 4]}, "encoding": {"x": {"datum": 0.4}, "y": {"datum": -0.052}, "y2": {"datum": 1.05}}},
        {"transform": [{"filter": "datum.g == 'i'"}], "mark": {"type": "line", "strokeWidth": 2.6}, "encoding": {"stroke": {"datum": "初始特性", "type": "nominal"}, "strokeDash": {"datum": "初始特性", "type": "nominal"}, "detail": {"field": "s"}, "order": {"value": null}}},
        {"transform": [{"filter": "datum.g == 'si'"}], "mark": {"type": "line", "color": "#000000", "strokeWidth": 7}, "encoding": {"order": {"value": null}}},
        {"transform": [{"filter": "datum.g == 'c'"}], "mark": {"type": "line", "strokeWidth": 5}, "encoding": {"stroke": {"datum": "分区修正", "type": "nominal"}, "strokeDash": {"datum": "分区修正", "type": "nominal"}, "detail": {"field": "s"}, "order": {"value": null}}},
        {"transform": [{"filter": "datum.g == 'sc'"}], "mark": {"type": "line", "color": "#f01c24", "strokeWidth": 5.5, "strokeDash": [26, 12]}, "encoding": {"order": {"value": null}}},
        {"transform": [{"filter": "datum.g == 'o'"}], "mark": {"type": "point", "size": 3060, "strokeWidth": 2.5, "opacity": 1}, "encoding": {"shape": {"datum": "工况点 (初始)", "type": "nominal"}, "fill": {"datum": "工况点 (初始)", "type": "nominal"}, "stroke": {"datum": "工况点 (初始)", "type": "nominal"}}},
        {"transform": [{"filter": "datum.g == 'q'"}], "mark": {"type": "point", "size": 3490, "strokeWidth": 4.5, "opacity": 1}, "encoding": {"shape": {"datum": "工况点 (修正)", "type": "nominal"}, "fill": {"datum": "工况点 (修正)", "type": "nominal"}, "stroke": {"datum": "工况点 (修正)", "type": "nominal"}}},
        {"transform": [{"filter": "datum.g == 'q'"}], "mark": {"type": "point", "size": 3000, "strokeWidth": 1, "opacity": 1}, "encoding": {"shape": {"datum": "工况点 (真实)", "type": "nominal"}, "fill": {"datum": "工况点 (真实)", "type": "nominal"}, "stroke": {"datum": "工况点 (真实)", "type": "nominal"}}},
        {"transform": [{"filter": "datum.g == 't'"}], "mark": {"type": "text", "font": "Liberation Serif", "fontSize": 50, "color": "#000000", "align": "center", "baseline": "middle"}, "encoding": {"text": {"field": "s"}}}
      ]
    },
    {
      "width": 1298, "height": 850,
      "title": "(f) 高压压气机效率特性",
      "data": {"name": "f"},
      "encoding": {
        "x": {"field": "x", "type": "quantitative", "title": "高压压气机折合流量", "scale": {"domain": [-0.051, 1.045], "nice": false, "zero": false}, "axis": {"values": [0, 0.2, 0.4, 0.6, 0.8, 1], "labelExpr": "datum.value == 0 ? '0' : format(datum.value, '.1f')"}},
        "y": {"field": "y", "type": "quantitative", "title": "高压压气机效率", "scale": {"domain": [-0.057, 1.155], "nice": false, "zero": false}, "axis": {"values": [0, 0.2, 0.4, 0.6, 0.8, 1], "labelExpr": "datum.value == 0 ? '0' : format(datum.value, '.1f')"}}
      },
      "layer": [
        {"data": {"values": [{}]}, "mark": {"type": "rule", "color": "#d6d6d6", "strokeWidth": 2, "strokeDash": [4, 4]}, "encoding": {"x": {"datum": 0.4}, "y": {"datum": -0.057}, "y2": {"datum": 1.155}}},
        {"transform": [{"filter": "datum.g == 'i'"}], "mark": {"type": "line", "strokeWidth": 2.6}, "encoding": {"stroke": {"datum": "初始特性", "type": "nominal"}, "strokeDash": {"datum": "初始特性", "type": "nominal"}, "detail": {"field": "s"}, "order": {"value": null}}},
        {"transform": [{"filter": "datum.g == 'c'"}], "mark": {"type": "line", "strokeWidth": 5}, "encoding": {"stroke": {"datum": "分区修正", "type": "nominal"}, "strokeDash": {"datum": "分区修正", "type": "nominal"}, "detail": {"field": "s"}, "order": {"value": null}}},
        {"transform": [{"filter": "datum.g == 'o'"}], "mark": {"type": "point", "size": 3060, "strokeWidth": 2.5, "opacity": 1}, "encoding": {"shape": {"datum": "工况点 (初始)", "type": "nominal"}, "fill": {"datum": "工况点 (初始)", "type": "nominal"}, "stroke": {"datum": "工况点 (初始)", "type": "nominal"}}},
        {"transform": [{"filter": "datum.g == 'q'"}], "mark": {"type": "point", "size": 3490, "strokeWidth": 4.5, "opacity": 1}, "encoding": {"shape": {"datum": "工况点 (修正)", "type": "nominal"}, "fill": {"datum": "工况点 (修正)", "type": "nominal"}, "stroke": {"datum": "工况点 (修正)", "type": "nominal"}}},
        {"transform": [{"filter": "datum.g == 'q'"}], "mark": {"type": "point", "size": 3000, "strokeWidth": 1, "opacity": 1}, "encoding": {"shape": {"datum": "工况点 (真实)", "type": "nominal"}, "fill": {"datum": "工况点 (真实)", "type": "nominal"}, "stroke": {"datum": "工况点 (真实)", "type": "nominal"}}},
        {"transform": [{"filter": "datum.g == 't'"}], "mark": {"type": "text", "font": "Liberation Serif", "fontSize": 50, "color": "#000000", "align": "center", "baseline": "middle"}, "encoding": {"text": {"field": "s"}}}
      ]
    }
  ],
  "config": {
    "font": "Liberation Serif, Noto Sans CJK SC",
    "view": {"stroke": "#000000", "strokeWidth": 4.5},
    "axis": {"grid": false, "domain": false, "tickColor": "#000000", "tickWidth": 4, "tickSize": -18, "labelFont": "Liberation Serif", "labelFontSize": 66, "labelColor": "#000000", "titleFont": "Liberation Serif, Noto Sans CJK SC", "titleFontSize": 66, "titleFontWeight": "normal", "titleColor": "#000000", "labelFlush": false, "labelOverlap": false},
    "axisX": {"labelPadding": 34, "titlePadding": 36},
    "axisY": {"labelPadding": 41, "titlePadding": 23},
    "title": {"orient": "bottom", "fontSize": 66, "fontWeight": "normal", "color": "#000000", "offset": 40, "font": "Liberation Serif, Noto Sans CJK SC"},
    "legend": {"orient": "none", "legendX": 251, "legendY": -91, "direction": "horizontal", "symbolSize": 2704, "symbolStrokeWidth": 4, "labelFont": "Liberation Serif, Noto Sans CJK SC", "labelFontSize": 66, "labelColor": "#000000", "labelLimit": 1000, "labelOffset": 33, "columnPadding": 23, "symbolOpacity": 1, "padding": 0}
  }
}
